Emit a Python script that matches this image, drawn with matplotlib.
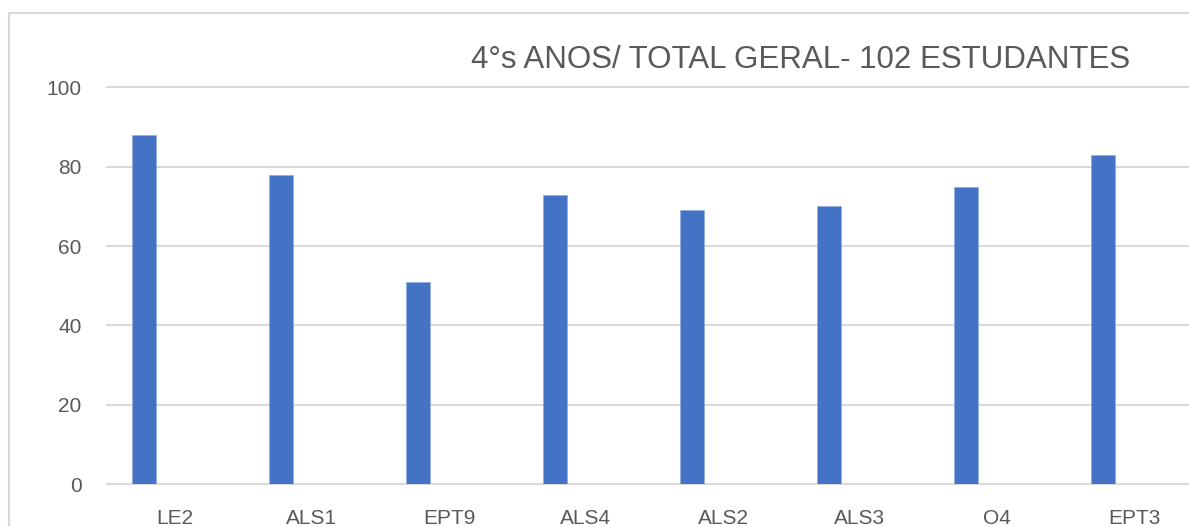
import matplotlib

matplotlib.use("Agg")

import matplotlib.pyplot as plt
from matplotlib.patches import Rectangle


CATEGORIES = ["LE2", "ALS1", "EPT9", "ALS4", "ALS2", "ALS3", "O4", "EPT3"]
VALUES = [88, 78, 51, 73, 69, 70, 75, 83]
Y_TICKS = [0, 20, 40, 60, 80, 100]
TITLE = "4°s ANOS/ TOTAL GERAL- 102 ESTUDANTES"

BAR_COLOR = "#4472C4"
GRID_COLOR = "#D9D9D9"
TEXT_COLOR = "#595959"

W, H = 1189, 526


def main():
    plt.rcParams["font.family"] = ["Liberation Sans", "DejaVu Sans"]

    fig = plt.figure(figsize=(W / 100, H / 100), dpi=100)

    # outer chart border, cut off on the right and bottom like the source
    fig.patches.append(Rectangle(
        (9 / W, -0.1), 1.2, 1 - 13 / H + 0.1,
        transform=fig.transFigure, fill=False,
        edgecolor=GRID_COLOR, linewidth=1.5,
    ))

    ax = fig.add_axes([106.5 / W, 42 / H, 8 * 137 / W, 396.5 / H])

    x = list(range(len(CATEGORIES)))
    ax.bar([i - 0.226 for i in x], VALUES, width=0.175,
           color=BAR_COLOR, edgecolor="#8FAADC", linewidth=0.4, zorder=3)

    ax.set_xlim(-0.5, len(CATEGORIES) - 0.5)
    ax.set_ylim(0, 100)
    ax.set_yticks(Y_TICKS)
    ax.set_xticks(x)
    ax.set_xticklabels(CATEGORIES)

    ax.yaxis.grid(True, color=GRID_COLOR, linewidth=1.5, zorder=0)
    for line in ax.get_ygridlines():
        line.set_clip_on(False)

    for side in ["top", "right", "left", "bottom"]:
        ax.spines[side].set_visible(False)

    ax.tick_params(axis="y", length=0, pad=18, labelsize=15, labelcolor=TEXT_COLOR)
    ax.tick_params(axis="x", length=0, pad=18, labelsize=15, labelcolor=TEXT_COLOR)

    fig.text(801 / W, 1 - 60 / H, TITLE, ha="center", va="center",
             fontsize=22.5, color=TEXT_COLOR)

    fig.savefig("out.png", dpi=100)
    plt.close(fig)


if __name__ == "__main__":
    main()
